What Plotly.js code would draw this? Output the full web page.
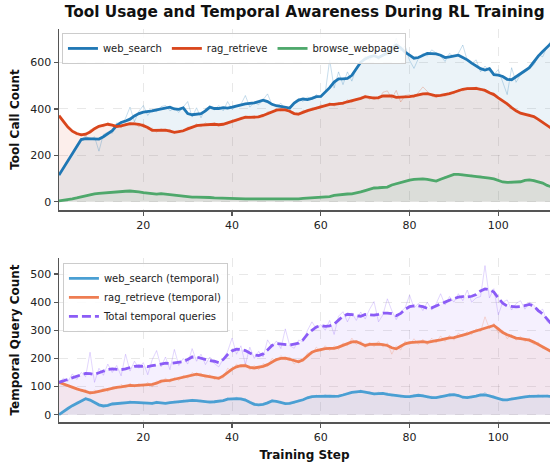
<!DOCTYPE html>
<html><head><meta charset="utf-8">
<script src="https://cdn.plot.ly/plotly-3.0.1.min.js"></script>
<style>html,body{margin:0;padding:0;background:#fff}#chart{width:550px;height:464px}</style>
</head><body><div id="chart"></div>
<script>
const steps = [1,2,3,4,5,6,7,8,9,10,11,12,13,14,15,16,17,18,19,20,21,22,23,24,25,26,27,28,29,30,31,32,33,34,35,36,37,38,39,40,41,42,43,44,45,46,47,48,49,50,51,52,53,54,55,56,57,58,59,60,61,62,63,64,65,66,67,68,69,70,71,72,73,74,75,76,77,78,79,80,81,82,83,84,85,86,87,88,89,90,91,92,93,94,95,96,97,98,99,100,101,102,103,104,105,106,107,108,109,110,111,112];

// Top panel: tool call counts (raw and smoothed)
const webSearchRaw = [110,150,180,200,245,265,285,268,280,218,290,300,295,340,335,360,408,345,390,415,372,398,388,410,415,392,404,385,410,432,365,405,362,402,410,395,415,392,432,398,410,420,458,408,428,418,440,465,418,410,425,398,395,430,445,432,452,440,462,448,470,612,490,560,505,560,520,578,600,628,610,640,612,638,630,655,705,650,672,610,575,618,640,628,655,640,628,605,640,625,640,676,610,595,612,560,585,565,548,570,520,462,578,515,548,560,575,590,635,625,668,700];
const webSearchSmooth = [115,145,175,205,240,268,272,272,272,270,280,292,306,328,342,348,356,370,380,386,388,392,396,400,403,408,400,398,405,380,375,378,380,392,408,402,402,406,404,408,413,418,422,424,426,432,438,432,420,414,410,405,404,425,438,443,440,446,453,454,472,492,516,530,530,532,545,572,602,616,625,630,622,632,642,660,676,664,645,632,619,622,632,640,639,638,632,622,625,630,632,622,612,598,586,574,568,574,548,546,540,528,526,538,550,565,578,605,628,648,668,685];
const ragRetrieveRaw = [375,340,318,300,288,295,282,310,318,330,322,342,328,335,318,338,330,345,322,338,312,318,300,315,305,312,295,308,300,322,318,336,322,340,328,340,326,338,335,352,348,365,360,370,358,372,365,388,385,400,392,402,385,376,372,395,388,405,398,418,410,428,412,428,418,440,428,445,440,460,442,455,440,472,478,445,480,430,458,462,448,472,495,476,455,450,462,455,470,465,485,478,492,485,495,482,486,468,470,445,438,418,408,390,385,376,378,365,358,340,330,312];
const ragRetrieveSmooth = [371,345,322,304,294,288,291,300,315,325,331,334,330,324,327,332,337,336,334,328,320,308,309,309,309,304,299,302,306,314,322,328,330,332,334,334,332,334,340,346,353,360,365,364,364,366,372,380,389,395,397,396,390,380,378,386,393,398,403,410,416,420,420,421,425,431,436,439,446,453,449,447,449,456,456,456,450,450,452,453,456,461,465,466,462,457,459,462,466,472,480,485,488,489,489,485,480,470,462,448,436,422,406,392,382,378,374,367,355,342,328,316];
const browseRaw = [2,6,7,14,15,22,25,32,33,38,36,41,40,44,43,47,45,46,41,40,35,34,32,36,32,31,26,25,21,22,19,21,19,20,17,17,14,15,12,13,11,13,11,13,11,13,11,12,10,12,10,11,9,12,11,15,14,17,16,18,18,23,26,31,30,34,33,38,41,50,52,61,58,62,60,74,76,85,86,95,94,100,96,98,90,90,96,108,110,121,116,119,110,115,108,112,104,104,96,92,83,85,80,86,84,95,92,93,84,82,68,62];
const browseSmooth = [3,5,8,12,16,21,26,30,34,36,38,39,41,42,44,45,46,45,42,39,36,33,33,35,33,30,27,24,22,21,20,20,20,19,18,16,15,14,13,12,12,12,12,12,12,12,12,12,11,11,11,10,10,11,12,14,15,16,17,17,19,22,27,30,31,33,34,37,42,48,54,59,60,60,63,72,78,83,88,93,96,98,98,96,92,89,97,105,112,118,118,116,112,112,111,109,106,102,98,90,85,83,83,84,86,92,94,91,86,80,70,64];

// Bottom panel: temporal query counts
const wsTemporalRaw = [2,10,25,30,45,48,60,50,46,30,34,30,42,38,44,40,50,42,46,38,44,36,48,40,42,40,48,42,52,46,55,48,52,44,50,42,50,48,60,52,62,52,58,40,42,32,40,38,55,44,48,36,44,40,52,50,64,60,70,62,72,62,70,62,74,72,82,78,88,78,82,70,80,72,78,66,72,62,68,60,72,66,72,60,66,58,68,64,75,68,72,58,66,60,70,66,80,64,68,55,58,50,60,55,64,60,70,62,72,62,70,64];
const wsTemporalSmooth = [0,12,22,32,41,50,57,52,44,35,31,33,38,40,41,42,44,44,43,41,40,40,44,42,40,43,45,45,47,50,51,50,48,46,45,46,47,50,55,57,57,56,52,44,37,35,37,42,49,47,43,39,40,44,48,53,60,64,65,66,66,66,65,66,70,75,79,81,83,80,77,74,75,76,72,70,67,65,64,64,67,69,67,63,61,61,63,67,70,71,68,62,61,63,66,70,70,67,63,58,53,53,56,58,60,63,65,66,66,66,66,65];
const rrTemporalRaw = [118,105,100,95,96,82,90,72,88,78,95,82,100,92,108,95,112,98,110,100,115,98,120,112,130,115,132,122,140,130,150,138,148,130,142,125,135,130,165,155,180,168,182,160,175,160,182,172,200,190,210,195,205,180,195,188,220,215,240,225,245,228,245,232,255,245,272,250,262,238,258,242,262,240,255,215,245,230,262,248,270,250,268,248,272,255,280,260,282,265,290,278,295,285,305,295,348,305,325,290,300,270,285,265,278,260,272,250,258,235,235,220];
const rrTemporalSmooth = [115,109,102,97,92,87,83,78,79,83,86,89,93,97,99,102,104,103,104,105,106,108,112,119,121,122,126,130,133,137,141,144,141,138,136,133,129,138,151,162,170,174,174,168,166,169,172,178,188,196,200,201,197,192,188,195,210,222,228,232,235,236,236,240,246,254,259,260,252,246,250,251,251,249,246,238,234,243,252,256,258,259,260,257,259,263,266,270,273,274,278,284,287,293,298,303,309,313,317,305,292,284,277,272,270,268,265,258,250,242,232,224];
const totalRaw = [112,130,118,145,125,150,135,222,115,165,140,180,150,175,138,215,155,190,165,185,142,195,228,170,205,160,232,175,200,180,235,190,215,178,205,182,170,200,225,272,215,245,178,240,200,225,205,266,240,262,235,305,245,236,265,260,300,330,305,320,300,335,285,350,366,330,362,335,365,340,375,402,330,355,412,370,338,365,380,425,380,395,370,400,372,395,430,390,420,400,430,405,443,400,415,420,530,415,448,355,400,408,372,395,405,375,400,390,365,375,330,320];
const totalSmooth = [115,120,127,132,136,141,147,146,143,149,155,161,163,162,160,163,167,172,173,172,171,174,177,181,183,182,184,186,189,196,205,205,200,195,192,190,185,196,214,227,233,232,228,219,212,210,216,230,246,253,251,248,248,251,254,266,286,300,312,317,314,316,322,336,350,357,356,352,350,356,354,354,357,361,361,359,352,360,375,384,387,387,384,378,380,386,392,400,407,413,418,420,418,421,427,440,447,444,436,415,396,386,384,383,384,388,392,386,370,358,340,322];

const xTicks = [20,40,60,80,100];
const yTicksTop = [0,200,400,600];
const yTicksBottom = [0,100,200,300,400,500];

const FONT = 'DejaVu Sans, sans-serif';
const C = {
  ws: '#1f77b4', rr: '#d9461c', bw: '#4ea86b',
  wst: '#4a9fd3', rrt: '#ee7d52', tot: '#8b5cf6'
};
function rgba(hex, a){
  const n = parseInt(hex.slice(1),16);
  return 'rgba('+((n>>16)&255)+','+((n>>8)&255)+','+(n&255)+','+a+')';
}
const traces = [];
function fillTrace(y, col, xa, ya){
  traces.push({x: steps, y: y, type:'scatter', mode:'lines', line:{width:0, color:col},
    fill:'tozeroy', fillcolor: rgba(col,0.09), xaxis:xa, yaxis:ya, showlegend:false, hoverinfo:'skip'});
}
function rawTrace(y, col, xa, ya){
  traces.push({x: steps, y: y, type:'scatter', mode:'lines', line:{width:1, color:rgba(col,0.25)},
    xaxis:xa, yaxis:ya, showlegend:false, hoverinfo:'skip'});
}
function mainTrace(y, col, name, xa, ya, legend, dash){
  traces.push({x: steps, y: y, type:'scatter', mode:'lines', name: name,
    line:{width: 2.8, color: col, dash: dash || 'solid'}, xaxis:xa, yaxis:ya, legend: legend});
}
// top
fillTrace(webSearchSmooth, C.ws, 'x', 'y');
fillTrace(ragRetrieveSmooth, C.rr, 'x', 'y');
fillTrace(browseSmooth, C.bw, 'x', 'y');
rawTrace(webSearchRaw, C.ws, 'x', 'y');
rawTrace(ragRetrieveRaw, C.rr, 'x', 'y');
rawTrace(browseRaw, C.bw, 'x', 'y');
mainTrace(webSearchSmooth, C.ws, 'web_search', 'x', 'y', 'legend');
mainTrace(ragRetrieveSmooth, C.rr, 'rag_retrieve', 'x', 'y', 'legend');
mainTrace(browseSmooth, C.bw, 'browse_webpage', 'x', 'y', 'legend');
// bottom
fillTrace(totalSmooth, C.tot, 'x2', 'y2');
fillTrace(rrTemporalSmooth, C.rrt, 'x2', 'y2');
fillTrace(wsTemporalSmooth, C.wst, 'x2', 'y2');
rawTrace(totalRaw, C.tot, 'x2', 'y2');
rawTrace(rrTemporalRaw, C.rrt, 'x2', 'y2');
rawTrace(wsTemporalRaw, C.wst, 'x2', 'y2');
mainTrace(wsTemporalSmooth, C.wst, 'web_search (temporal)', 'x2', 'y2', 'legend2');
mainTrace(rrTemporalSmooth, C.rrt, 'rag_retrieve (temporal)', 'x2', 'y2', 'legend2');
mainTrace(totalSmooth, C.tot, 'Total temporal queries', 'x2', 'y2', 'legend2', '9px,4px');

const axisBase = {
  showline:true, linecolor:'#555', linewidth:1.5, ticks:'outside', ticklen:4, tickwidth:1.2, tickcolor:'#555',
  showgrid:true, gridcolor:'rgba(0,0,0,0.09)', griddash:'dash', gridwidth:1, zeroline:false,
  tickfont:{family:FONT, size:11, color:'#222'}, automargin:false
};
const titleFont = {family:FONT, size:12, color:'#111', weight:'bold'};
const layout = {
  width:550, height:464, paper_bgcolor:'#fff', plot_bgcolor:'#fff',
  margin:{l:59, r:0, t:29, b:42},
  font:{family:FONT, size:11, color:'#222'},
  title:{text:'Tool Usage and Temporal Awareness During RL Training', x:0.554, xanchor:'center', y:0.975, yanchor:'middle',
    font:{family:FONT, size:15.3, color:'#111', weight:'bold'}},
  xaxis: Object.assign({}, axisBase, {domain:[0,1], range:[1,111.65], tickvals:xTicks, anchor:'y'}),
  yaxis: Object.assign({}, axisBase, {domain:[0.5394,1], range:[-36,745], tickvals:yTicksTop, anchor:'x',
    title:{text:'Tool Call Count', font:titleFont, standoff:8}}),
  xaxis2: Object.assign({}, axisBase, {domain:[0,1], range:[1,111.65], tickvals:xTicks, anchor:'y2',
    title:{text:'Training Step', font:titleFont, standoff:8}}),
  yaxis2: Object.assign({}, axisBase, {domain:[0,0.4173], range:[-26,557], tickvals:yTicksBottom, anchor:'x2',
    title:{text:'Temporal Query Count', font:titleFont, standoff:8}}),
  legend:{orientation:'h', x:0.006, y:0.99, xanchor:'left', yanchor:'top',
    bgcolor:'rgba(255,255,255,0.85)', bordercolor:'#ccc', borderwidth:1,
    font:{family:FONT, size:10, color:'#222'}, itemwidth:30, tracegroupgap:0},
  legend2:{orientation:'v', x:0.008, y:0.405, xanchor:'left', yanchor:'top',
    bgcolor:'rgba(255,255,255,0.85)', bordercolor:'#ccc', borderwidth:1,
    font:{family:FONT, size:10, color:'#222'}, itemwidth:30, tracegroupgap:0}
};
Plotly.newPlot('chart', traces, layout, {displayModeBar:false, staticPlot:true});
</script>
</body></html>
